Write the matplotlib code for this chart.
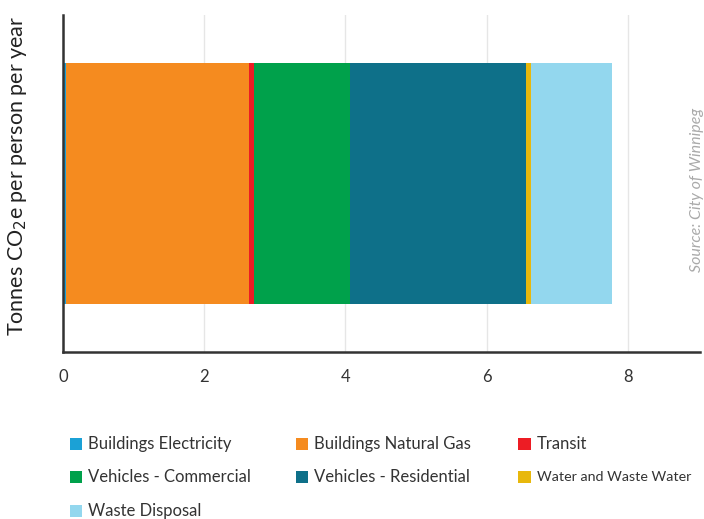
import matplotlib
matplotlib.use("Agg")
import matplotlib.pyplot as plt
from matplotlib.patches import Rectangle

categories = ["Buildings Electricity", "Buildings Natural Gas", "Transit",
              "Vehicles - Commercial", "Vehicles - Residential",
              "Water and Waste Water", "Waste Disposal"]
values = [0.04, 2.60, 0.06, 1.365, 2.49, 0.075, 1.15]
colors = ["#1ba1d6", "#f58b1f", "#ed1c24", "#00a14b", "#0e7089", "#e8b80c", "#93d7ee"]
xticks = [0, 2, 4, 6, 8]

plt.rcParams['font.family'] = ['Lato', 'DejaVu Sans']

W, H = 704, 519
fig = plt.figure(figsize=(W/100, H/100), dpi=100)
ax = fig.add_axes([63/W, 1-352/H, (700-63)/W, (352-15)/H])

left = 0.0
for cat, v, c in zip(categories, values, colors):
    ax.barh([0], [v], left=left, height=0.717, color=c, label=cat)
    left += v

ax.set_xlim(0, (700-63)/70.6)
ax.set_ylim(-0.5, 0.5)
ax.set_yticks([])
ax.set_xticks(xticks)
ax.set_xticklabels([str(t) for t in xticks], fontsize=12, color='#333333')
ax.tick_params(axis='x', length=0, pad=12)
ax.grid(axis='x', color='#e6e6e6', linewidth=1)
ax.set_axisbelow(True)
for s in ['top', 'right']:
    ax.spines[s].set_visible(False)
for s in ['left', 'bottom']:
    ax.spines[s].set_color('#333333')
    ax.spines[s].set_linewidth(1.8)

fig.text(18/W, 1-176/H, "Tonnes CO$_2$e per person per year", rotation=90,
         ha='center', va='center', fontsize=15.5, color='#222222')

fig.text(697/W, 1-272/H, "Source: City of Winnipeg", rotation=90,
         ha='center', va='bottom', fontsize=11.5, style='italic', color='#aaaaaa')

# legend, row-major, 3 columns
col_x = [69.5, 295.5, 518]
row_y = [444, 477, 511]
sq = 12.5
for i, (cat, c) in enumerate(zip(categories, colors)):
    r, k = divmod(i, 3)
    x0, yc = col_x[k], row_y[r]
    fig.add_artist(Rectangle((x0/W, 1-(yc+sq/2)/H), sq/W, sq/H,
                             transform=fig.transFigure, facecolor=c,
                             edgecolor='none'))
    fs = 10.3 if k == 2 and r == 1 else 12
    fig.text((x0+19)/W, 1-yc/H, cat, ha='left', va='center',
             fontsize=fs, color='#333333')

fig.savefig("out.png", dpi=100)
